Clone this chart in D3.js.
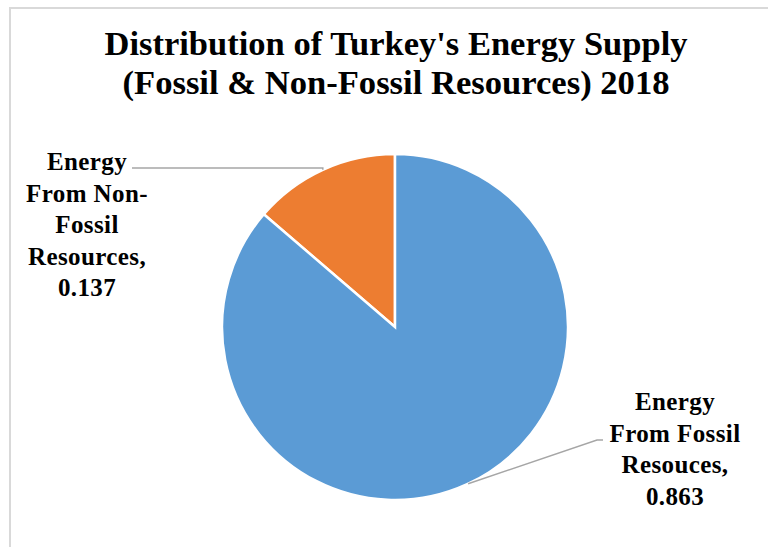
<!DOCTYPE html>
<html>
<head>
<meta charset="utf-8">
<script src="https://cdn.jsdelivr.net/npm/d3@7"></script>
<style>
  body { margin: 0; background: #fff; }
  svg text { font-family: "Liberation Serif", "Times New Roman", serif; font-weight: bold; fill: #000; }
</style>
</head>
<body>
<div id="chart"></div>
<script>
const width = 768;
const height = 547;

// data
const categories = ['Energy From Non-Fossil Resources', 'Energy From Fossil Resouces'];
const values = [0.137, 0.863];
const labelLines = [
  ['Energy', 'From Non-', 'Fossil', 'Resources,', '0.137'],
  ['Energy', 'From Fossil', 'Resouces,', '0.863']
];
const titleLines = ["Distribution of Turkey's Energy Supply", "(Fossil & Non-Fossil Resources) 2018"];

const colors = ['#ED7D31', '#5B9BD5'];

const cx = 395, cy = 327, radius = 173;

const svg = d3.select('#chart')
  .append('svg')
  .attr('width', width)
  .attr('height', height);

// chart frame (only top/left edges visible in the crop)
svg.append('path')
  .attr('d', 'M10,' + height + 'V8H' + width)
  .attr('fill', 'none')
  .attr('stroke', '#d9d9d9')
  .attr('stroke-width', 2);

const titleWidths = [583, 547];
svg.append('g')
  .selectAll('text')
  .data(titleLines)
  .enter()
    .append('text')
    .attr('x', 396)
    .attr('y', (d, i) => 55 + i * 39)
    .attr('text-anchor', 'middle')
    .attr('textLength', (d, i) => titleWidths[i])
    .attr('lengthAdjust', 'spacingAndGlyphs')
    .style('font-size', '34px')
    .text(d => d);

const pie = d3.pie().sort(null).value(d => d)
  .startAngle(0).endAngle(-2 * Math.PI);
const arcs = pie(values);
const arc = d3.arc().innerRadius(0).outerRadius(radius);

const g = svg.append('g').attr('transform', `translate(${cx},${cy})`);

g.selectAll('path')
  .data(arcs)
  .enter()
    .append('path')
    .attr('d', arc)
    .attr('fill', (d, i) => colors[i])
    .attr('stroke', '#fff')
    .attr('stroke-width', 2.5);

// label layout: centre x, first baseline, leader start/turn, anchor angle on rim
const labelLayout = [
  {x: 87, y: 170, step: 31.6, leader: [[132, 168]], angle: null},
  {x: 675, y: 410, step: 31.6, leader: [[603, 440], [597, 440]], angle: 155 * Math.PI / 180}
];

const rim = (a) => [cx + radius * Math.sin(a), cy - radius * Math.cos(a)];

arcs.forEach((d, i) => {
  const L = labelLayout[i];
  const a = L.angle === null ? (d.startAngle + d.endAngle) / 2 : L.angle;
  const end = rim(a);
  let pts = L.leader.slice();
  if (L.angle === null) pts.push([end[0], pts[0][1]]);
  pts.push(end);
  svg.append('path')
    .attr('d', d3.line()(pts))
    .attr('fill', 'none')
    .attr('stroke', '#a6a6a6')
    .attr('stroke-width', 1.5);

  svg.append('g')
    .selectAll('text')
    .data(labelLines[i])
    .enter()
      .append('text')
      .attr('x', L.x)
      .attr('y', (t, j) => L.y + j * L.step)
      .attr('text-anchor', 'middle')
      .style('font-size', '25px')
      .style('letter-spacing', '0.4px')
      .text(t => t);
});
</script>
</body>
</html>
